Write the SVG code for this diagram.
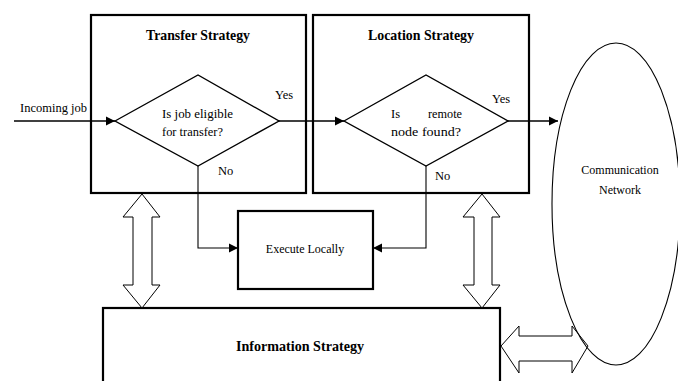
<svg xmlns="http://www.w3.org/2000/svg" width="678" height="381" viewBox="0 0 678 381">
<defs>
<style>
.box{fill:#fff;stroke:#000;stroke-width:2.2}
.dia{fill:#fff;stroke:#000;stroke-width:1.4}
.ln{fill:none;stroke:#000;stroke-width:1.3}
.thin{fill:none;stroke:#000;stroke-width:1.1}
.dbl{fill:#fff;stroke:#000;stroke-width:1}
text{font-family:"Liberation Serif","Times New Roman",serif;fill:#000}
.t{font-size:14px;font-weight:bold;text-anchor:middle}
.s{font-size:12.5px}
.c{font-size:12px;text-anchor:middle}
</style>
<marker id="ah" markerWidth="10" markerHeight="10" refX="9" refY="5" orient="auto" markerUnits="userSpaceOnUse">
<path d="M0,0.5 L9,5 L0,9.5 z" fill="#000"/>
</marker>
</defs>
<rect width="678" height="381" fill="#fff"/>

<g id="transfer-strategy">
<rect x="91" y="15" width="215" height="178" class="box"/>
<text class="t" x="198" y="40" textLength="104" lengthAdjust="spacingAndGlyphs">Transfer Strategy</text>
</g>

<g id="transfer-decision">
<polygon points="115,121 198,75 279,121 198,166" class="dia"/>
<text class="s" x="162" y="118" textLength="71" lengthAdjust="spacingAndGlyphs">Is job eligible</text>
<text class="s" x="162" y="136" textLength="61" lengthAdjust="spacingAndGlyphs">for transfer?</text>
</g>

<g id="location-strategy">
<rect x="313" y="15" width="216" height="178" class="box"/>
<text class="t" x="421" y="40" textLength="106" lengthAdjust="spacingAndGlyphs">Location Strategy</text>
</g>

<g id="location-decision">
<polygon points="344,121 426,75 508,121 426,166" class="dia"/>
<text class="s" x="391" y="118">Is</text>
<text class="s" x="428" y="118" textLength="34" lengthAdjust="spacingAndGlyphs">remote</text>
<text class="s" x="391" y="136" textLength="70" lengthAdjust="spacingAndGlyphs">node found?</text>
</g>

<g id="execute-locally">
<rect x="238" y="211" width="135" height="78" class="box"/>
<text class="c" x="305" y="253">Execute Locally</text>
</g>

<g id="information-strategy">
<rect x="103" y="308" width="397" height="90" class="box"/>
<text class="t" x="300" y="351" textLength="128" lengthAdjust="spacingAndGlyphs">Information Strategy</text>
</g>

<g id="connectors">
<line x1="14" y1="121" x2="115" y2="121" class="ln" marker-end="url(#ah)"/>
<line x1="279" y1="121" x2="344" y2="121" class="ln" marker-end="url(#ah)"/>
<line x1="508" y1="121" x2="558" y2="121" class="ln" marker-end="url(#ah)"/>
<polyline points="198,166 198,248 238,248" class="thin" marker-end="url(#ah)"/>
<polyline points="426,166 426,248 373,248" class="thin" marker-end="url(#ah)"/>
<polygon class="dbl" points="142,194 160,217 152,217 152,285 160,285 142,308 123,285 133,285 133,217 123,217"/>
<polygon class="dbl" points="482,194 500,217 492,217 492,285 500,285 482,308 463,285 474,285 474,217 463,217"/>
<polygon class="dbl" points="501,346 519,326 519,336 572,336 572,326 588,346 572,373 572,361 519,361 519,373"/>
<text class="s" x="20" y="112">Incoming job</text>
<text class="s" x="275" y="99">Yes</text>
<text class="s" x="492" y="103">Yes</text>
<text class="s" x="218" y="175">No</text>
<text class="s" x="435" y="180">No</text>
</g>

<g id="communication-network">
<ellipse cx="616" cy="204" rx="64" ry="161" class="thin"/>
<text class="c" x="620" y="174">Communication</text>
<text class="c" x="620" y="194">Network</text>
</g>
</svg>
